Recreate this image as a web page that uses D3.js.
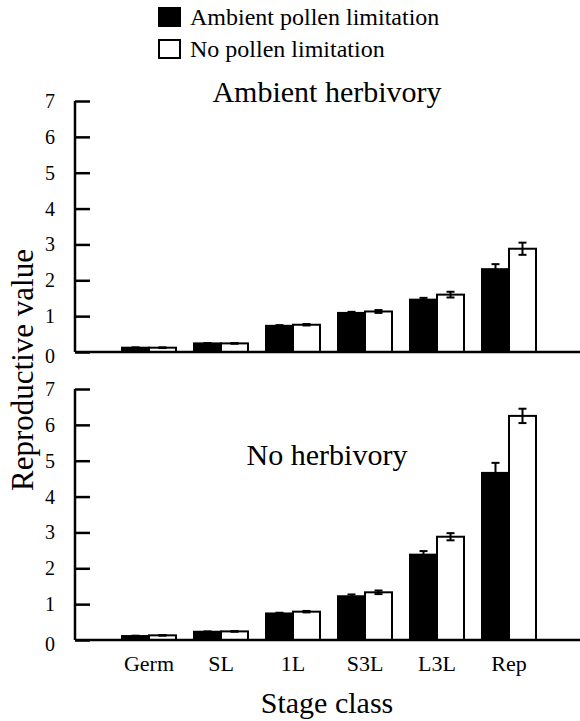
<!DOCTYPE html>
<html>
<head>
<meta charset="utf-8">
<script src="https://cdn.jsdelivr.net/npm/d3@7"></script>
<style>
  body { margin: 0; background: #fff; }
  svg { display: block; }
</style>
</head>
<body>
<svg id="chart" width="580" height="721"></svg>
<script>
// ---- Data ----
const categories = ["Germ", "SL", "1L", "S3L", "L3L", "Rep"];
const seriesNames = ["Ambient pollen limitation", "No pollen limitation"];
const yTicks = [0, 1, 2, 3, 4, 5, 6, 7];

// Panel: Ambient herbivory
const ambHerbAmbPollen    = [0.12, 0.24, 0.73, 1.09, 1.46, 2.31];
const ambHerbAmbPollenErr = [0.01, 0.01, 0.02, 0.03, 0.05, 0.14];
const ambHerbNoPollen     = [0.12, 0.24, 0.76, 1.13, 1.60, 2.88];
const ambHerbNoPollenErr  = [0.01, 0.01, 0.02, 0.04, 0.08, 0.17];

// Panel: No herbivory
const noHerbAmbPollen     = [0.11, 0.23, 0.74, 1.22, 2.38, 4.66];
const noHerbAmbPollenErr  = [0.01, 0.01, 0.02, 0.05, 0.10, 0.28];
const noHerbNoPollen      = [0.13, 0.24, 0.79, 1.33, 2.88, 6.25];
const noHerbNoPollenErr   = [0.01, 0.01, 0.02, 0.05, 0.10, 0.20];

const FONT = "'Liberation Serif', 'Times New Roman', serif";

const panels = [
  { title: "Ambient herbivory", a: ambHerbAmbPollen, ae: ambHerbAmbPollenErr, b: ambHerbNoPollen, be: ambHerbNoPollenErr, y0: 352, y7: 101, titleY: 102 },
  { title: "No herbivory",      a: noHerbAmbPollen,  ae: noHerbAmbPollenErr,  b: noHerbNoPollen,  be: noHerbNoPollenErr,  y0: 640, y7: 389, titleY: 465 }
];

const svg = d3.select("#chart").style("font-family", FONT);
const axisX = 75, rightX = 580;

const x = d3.scaleBand().domain(categories).range([113, 545]).paddingInner(0).paddingOuter(0);
const barW = 27;

function txt(sel) { return sel.style("font-family", FONT).attr("fill", "#000"); }

panels.forEach((p, pi) => {
  const y = d3.scaleLinear().domain([0, 7]).range([p.y0, p.y7]);
  const g = svg.append("g");

  // title
  g.append("text").call(txt).attr("x", 327).attr("y", p.titleY).attr("text-anchor", "middle")
    .attr("font-size", 30).text(p.title);

  // bars
  const series = [
    { vals: p.a, errs: p.ae, fill: "#000", off: -barW },
    { vals: p.b, errs: p.be, fill: "#fff", off: 0 }
  ];
  series.forEach(s => {
    const bx = c => x(c) + x.bandwidth() / 2 + s.off;
    g.selectAll(null).data(categories).enter().append("rect")
      .attr("x", c => bx(c))
      .attr("y", (c, i) => y(s.vals[i]))
      .attr("width", barW)
      .attr("height", (c, i) => y(0) - y(s.vals[i]))
      .attr("fill", s.fill).attr("stroke", "#000").attr("stroke-width", 2);
    g.selectAll(null).data(categories).enter().append("g").each(function(c, i) {
      const xc = bx(c) + barW / 2;
      const v = s.vals[i], e = s.errs[i];
      const eg = d3.select(this);
      eg.append("line").attr("x1", xc).attr("x2", xc).attr("y1", y(v + e)).attr("y2", y(Math.max(0, v - e)))
        .attr("stroke", "#000").attr("stroke-width", 2);
      [v + e, Math.max(0, v - e)].forEach(t => {
        eg.append("line").attr("x1", xc - 4).attr("x2", xc + 4).attr("y1", y(t)).attr("y2", y(t))
          .attr("stroke", "#000").attr("stroke-width", 2);
      });
    });
  });

  // x baseline
  g.append("line").attr("x1", axisX).attr("x2", rightX).attr("y1", y(0)).attr("y2", y(0))
    .attr("stroke", "#000").attr("stroke-width", 2.5);

  // y axis
  const yAxis = d3.axisRight(y).tickValues(yTicks).tickSize(15).tickFormat("");
  const ag = g.append("g").attr("transform", `translate(${axisX},0)`).call(yAxis);
  ag.select(".domain").attr("d", `M0,${y(7)}V${y(0)}`).attr("stroke", "#000").attr("stroke-width", 2.5);
  ag.selectAll(".tick line").attr("stroke", "#000").attr("stroke-width", 2.5);

  g.selectAll(null).data(yTicks).enter().append("text").call(txt)
    .attr("x", 50).attr("y", d => y(d) + (d === 0 ? 4 : 0)).attr("dy", "0.35em")
    .attr("text-anchor", "middle").attr("font-size", 20).text(d => d);

  if (pi === 1) {
    g.selectAll(null).data(categories).enter().append("text").call(txt)
      .attr("x", c => x(c) + x.bandwidth() / 2).attr("y", 671)
      .attr("text-anchor", "middle").attr("font-size", 22).text(c => c);
  }
});

// axis titles
svg.append("text").call(txt).attr("transform", "translate(33,370) rotate(-90)")
  .attr("text-anchor", "middle").attr("font-size", 31).text("Reproductive value");
svg.append("text").call(txt).attr("x", 327).attr("y", 713).attr("text-anchor", "middle")
  .attr("font-size", 30).text("Stage class");

// legend
const legend = svg.append("g");
seriesNames.forEach((n, i) => {
  const ly = 8 + i * 32;
  legend.append("rect").attr("x", 159).attr("y", ly).attr("width", 21).attr("height", 18)
    .attr("fill", i === 0 ? "#000" : "#fff").attr("stroke", "#000").attr("stroke-width", 2);
  legend.append("text").call(txt).attr("x", 190).attr("y", ly + 17).attr("font-size", 24).text(n);
});
</script>
</body>
</html>
